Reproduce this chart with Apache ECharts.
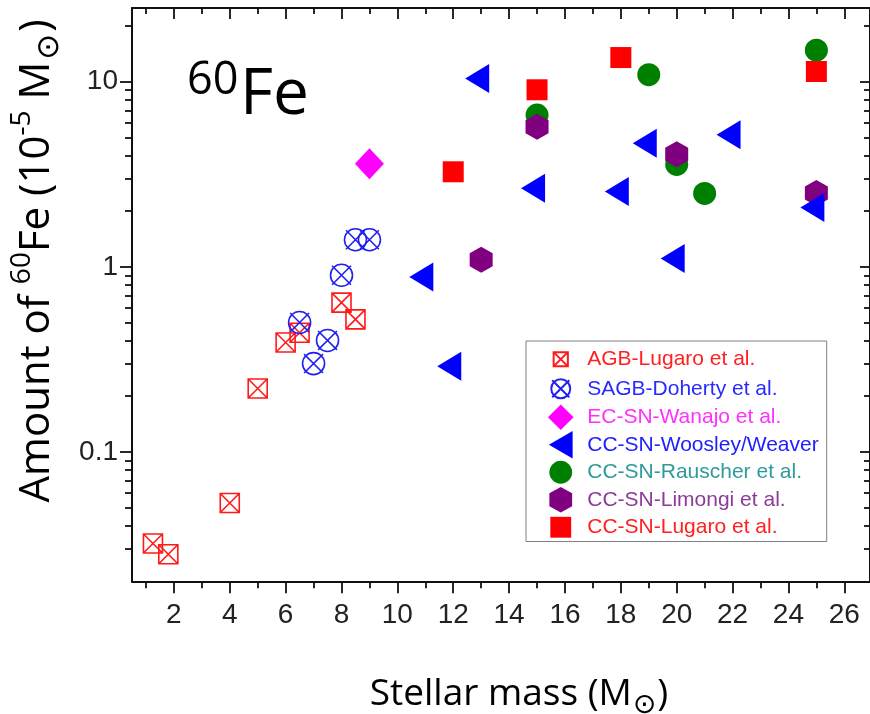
<!DOCTYPE html>
<html>
<head>
<meta charset="utf-8">
<script src="https://cdn.jsdelivr.net/npm/echarts@6/dist/echarts.min.js"></script>
<style>
  html, body { margin: 0; padding: 0; background: #ffffff; }
  #chart { width: 870px; height: 714px; }
</style>
</head>
<body>
<div id="chart"></div>
<script>
// Stellar mass (solar masses) and 60Fe yield (1e-5 solar masses) for each model set
const agbLugaroMass   = [1.25, 1.8, 4, 5, 6, 6.5, 8, 8.5];
const agbLugaroFe60   = [0.032, 0.028, 0.053, 0.22, 0.39, 0.44, 0.64, 0.52];
const sagbDohertyMass = [6.5, 7, 7.5, 8, 8.5, 9];
const sagbDohertyFe60 = [0.50, 0.30, 0.40, 0.90, 1.40, 1.40];
const ecWanajoMass    = [9];
const ecWanajoFe60    = [3.6];
const woosleyMass     = [11, 12, 13, 15, 18, 19, 20, 22, 25];
const woosleyFe60     = [0.88, 0.29, 10.4, 2.66, 2.55, 4.65, 1.11, 5.16, 2.09];
const rauscherMass    = [15, 19, 20, 21, 25];
const rauscherFe60    = [6.6, 10.9, 3.57, 2.49, 14.8];
const limongiMass     = [13, 15, 20, 25];
const limongiFe60     = [1.09, 5.7, 4.06, 2.5];
const ccLugaroMass    = [12, 15, 18, 25];
const ccLugaroFe60    = [3.26, 9.04, 13.5, 11.35];

// Axis ticks
const xMajorTicks = [2, 4, 6, 8, 10, 12, 14, 16, 18, 20, 22, 24, 26];
const xMinorTicks = [1, 3, 5, 7, 9, 11, 13, 15, 17, 19, 21, 23, 25];
const yMajorTicks = [0.1, 1, 10];
const yMinorTicks = [0.03, 0.04, 0.05, 0.06, 0.07, 0.08, 0.09,
                     0.2, 0.3, 0.4, 0.5, 0.6, 0.7, 0.8, 0.9,
                     2, 3, 4, 5, 6, 7, 8, 9, 20];

const X_MIN = 0.5, X_MAX = 26.92;
const Y_MIN = 0.02, Y_MAX = 25;

const pairs = (xs, ys) => xs.map((x, i) => [x, ys[i]]);

// Marker shapes used on the plot
const crossedSquare = 'path://M0,0L10,0L10,10L0,10Z M0,0L10,10 M10,0L0,10';
const crossedCircle = 'path://M-10,0A10,10,0,1,1,10,0A10,10,0,1,1,-10,0Z M-8.6,-8.6L8.6,8.6 M8.6,-8.6L-8.6,8.6';
const hexagon = 'path://M0,-1L0.866,-0.5L0.866,0.5L0,1L-0.866,0.5L-0.866,-0.5Z';

// Legend icons, all drawn inside a common 29x29 frame so each keeps its own size
const FRAME = 'M-14.5,-14.5M14.5,14.5';
const legendIcons = {
  agb: 'path://' + FRAME + 'M-7.5,-7.5L7.5,-7.5L7.5,7.5L-7.5,7.5Z M-7.5,-7.5L7.5,7.5 M7.5,-7.5L-7.5,7.5',
  sagb: 'path://' + FRAME + 'M-10,0A10,10,0,1,1,10,0A10,10,0,1,1,-10,0Z M-9,-9L9,9 M9,-9L-9,9',
  diamond: 'path://' + FRAME + 'M0,-13.5L13.5,0L0,13.5L-13.5,0Z',
  triangle: 'path://' + FRAME + 'M-12.5,0L12.5,-14.5L12.5,14.5Z',
  circle: 'path://' + FRAME + 'M-12,0A12,12,0,1,1,12,0A12,12,0,1,1,-12,0Z',
  hexagon: 'path://' + FRAME + 'M0,-13.5L12,-6.75L12,6.75L0,13.5L-12,6.75L-12,-6.75Z',
  square: 'path://' + FRAME + 'M-11,-11L11,-11L11,11L-11,11Z'
};

const black = '#111';
const tickStyle = { color: black, width: 1.8 };

function xAxisDef(position, ticks, len, inside, withLine, withLabel) {
  return {
    type: 'value', position: position, min: X_MIN, max: X_MAX,
    axisLine: { show: withLine, onZero: false, lineStyle: { color: black, width: 2 } },
    axisTick: { show: true, inside: inside, length: len, customValues: ticks, lineStyle: tickStyle },
    axisLabel: withLabel ? {
      show: true, customValues: ticks, margin: 20,
      fontFamily: 'Liberation Sans', fontSize: 28, color: '#222'
    } : { show: false },
    splitLine: { show: false }
  };
}

function yAxisDef(position, ticks, len, inside, withLine, withLabel) {
  return {
    type: 'log', logBase: 10, position: position, min: Y_MIN, max: Y_MAX,
    axisLine: { show: withLine, onZero: false, lineStyle: { color: black, width: 2 } },
    axisTick: { show: true, inside: inside, length: len, customValues: ticks, lineStyle: tickStyle },
    axisLabel: withLabel ? {
      show: true, customValues: ticks, margin: 14,
      fontFamily: 'Liberation Sans', fontSize: 28, color: '#222',
      formatter: v => String(v)
    } : { show: false },
    splitLine: { show: false }
  };
}

function scatter(name, xs, ys, symbol, size, style, extra) {
  return Object.assign({
    name: name, type: 'scatter', xAxisIndex: 0, yAxisIndex: 0,
    data: pairs(xs, ys), symbol: symbol, symbolSize: size,
    itemStyle: Object.assign({ opacity: 1 }, style),
    emphasis: { disabled: true }
  }, extra || {});
}

const legendItems = [
  ['AGB-Lugaro et al.', '#ff2020', legendIcons.agb],
  ['SAGB-Doherty et al.', '#2a2aff', legendIcons.sagb],
  ['EC-SN-Wanajo et al.', '#ff30ff', legendIcons.diamond],
  ['CC-SN-Woosley/Weaver', '#2020ff', legendIcons.triangle],
  ['CC-SN-Rauscher et al.', '#2e9a9a', legendIcons.circle],
  ['CC-SN-Limongi et al.', '#8e3a9a', legendIcons.hexagon],
  ['CC-SN-Lugaro et al.', '#ff2020', legendIcons.square]
];

const chart = echarts.init(document.getElementById('chart'), null, { renderer: 'canvas' });

chart.setOption({
  animation: false,
  backgroundColor: '#ffffff',
  grid: { left: 132, top: 8, width: 740, height: 573.3, containLabel: false },
  xAxis: [
    xAxisDef('bottom', xMajorTicks, 12, false, true, true),
    xAxisDef('bottom', xMinorTicks, 7, false, false, false),
    xAxisDef('top', xMajorTicks, 11, true, true, false),
    xAxisDef('top', xMinorTicks, 6, true, false, false)
  ],
  yAxis: [
    yAxisDef('left', yMajorTicks, 12, false, true, true),
    yAxisDef('left', yMinorTicks, 7, false, false, false),
    yAxisDef('right', yMajorTicks, 10, true, true, false),
    yAxisDef('right', yMinorTicks, 6, true, false, false)
  ],
  legend: {
    orient: 'vertical', left: 526, top: 341,
    padding: [3.5, 8, 0.5, 20],
    itemWidth: 43, itemHeight: 27.5, itemGap: 0,
    symbolRotate: 0, symbolKeepAspect: true,
    backgroundColor: '#ffffff', borderColor: '#808080', borderWidth: 1,
    selectedMode: false,
    textStyle: { fontFamily: 'Liberation Sans', fontSize: 21, lineHeight: 24 },
    data: legendItems.map(([n, c, icon]) => ({ name: n, icon: icon, textStyle: { color: c } }))
  },
  series: [
    scatter('AGB-Lugaro et al.', agbLugaroMass, agbLugaroFe60, crossedSquare, 19,
      { color: 'rgba(0,0,0,0)', borderColor: '#ff1a1a', borderWidth: 1.6 }, { z: 2 }),
    scatter('SAGB-Doherty et al.', sagbDohertyMass, sagbDohertyFe60, crossedCircle, 22,
      { color: 'rgba(0,0,0,0)', borderColor: '#2020f0', borderWidth: 1.6 }, { z: 3 }),
    scatter('EC-SN-Wanajo et al.', ecWanajoMass, ecWanajoFe60, 'diamond', [29, 31],
      { color: '#ff00ff' }, { z: 2 }),
    scatter('CC-SN-Rauscher et al.', rauscherMass, rauscherFe60, 'circle', 23,
      { color: '#008000' }, { z: 2 }),
    scatter('CC-SN-Limongi et al.', limongiMass, limongiFe60, hexagon, [23, 26],
      { color: '#800080' }, { z: 3 }),
    scatter('CC-SN-Lugaro et al.', ccLugaroMass, ccLugaroFe60, 'rect', 21,
      { color: '#ff0000' }, { z: 3 }),
    scatter('CC-SN-Woosley/Weaver', woosleyMass, woosleyFe60, 'triangle', [29, 24],
      { color: '#0000ff' }, { z: 4, symbolRotate: 90, symbolOffset: [-4, 0] })
  ],
  graphic: [
    {
      type: 'text', x: 187, y: 81, z: 10,
      style: { text: '60', fill: '#000', font: '45px "Open Sans"', align: 'left', verticalAlign: 'middle' }
    },
    {
      type: 'text', x: 240, y: 96, z: 10,
      style: { text: 'Fe', fill: '#000', font: '64px "Open Sans"', align: 'left', verticalAlign: 'middle' }
    },
    {
      type: 'text', x: 519, y: 694, z: 10,
      style: {
        text: 'Stellar mass (M{sub|⊙})',
        fill: '#000', font: '37px "Open Sans"', align: 'center', verticalAlign: 'middle',
        rich: {
          sub: { fontFamily: 'DejaVu Sans', fontSize: 28, verticalAlign: 'top', fill: '#000', padding: [24, 1, 0, 1] }
        }
      }
    },
    {
      type: 'text', x: 37, y: 261, rotation: Math.PI / 2, z: 10,
      style: {
        text: 'Amount of {sup|60}Fe (10{sup|-5} M{sub|⊙})',
        fill: '#000', font: '42px "Open Sans"', align: 'center', verticalAlign: 'middle',
        rich: {
          sup: { fontFamily: 'Open Sans', fontSize: 28, verticalAlign: 'top', fill: '#000' },
          sub: { fontFamily: 'DejaVu Sans', fontSize: 31, verticalAlign: 'top', fill: '#000', padding: [26, 2, 0, 2] }
        }
      }
    }
  ]
});
</script>
</body>
</html>
